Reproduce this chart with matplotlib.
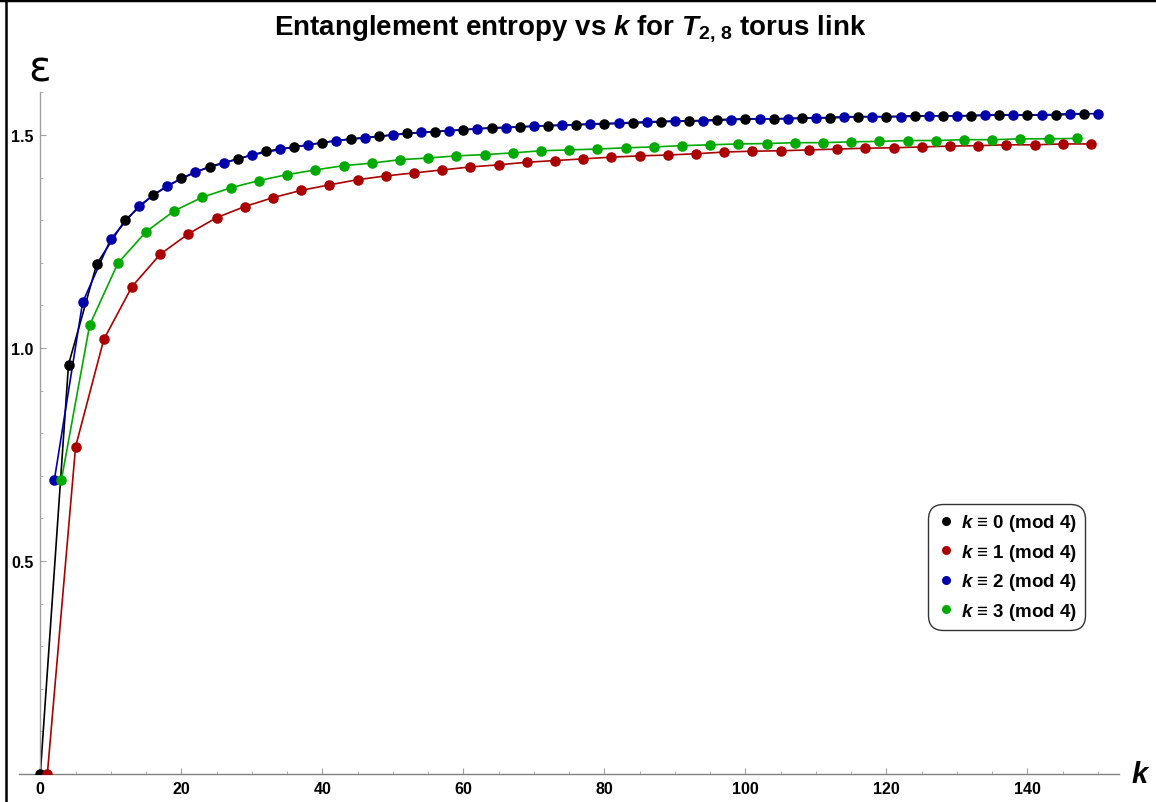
import matplotlib
matplotlib.use("Agg")
import matplotlib.pyplot as plt
from matplotlib.lines import Line2D
from matplotlib.ticker import MultipleLocator
import numpy as np

plt.rcParams['font.family'] = ['Liberation Sans', 'DejaVu Sans']
plt.rcParams['mathtext.fontset'] = 'custom'
plt.rcParams['mathtext.rm'] = 'Liberation Sans'
plt.rcParams['mathtext.it'] = 'Liberation Sans:italic'
plt.rcParams['mathtext.bf'] = 'Liberation Sans:bold'
plt.rcParams['mathtext.bfit'] = 'Liberation Sans:bold:italic'

k0 = list(range(0, 149, 4))
s0 = [0.0, 0.961, 1.197, 1.300, 1.360, 1.398, 1.426, 1.444, 1.462, 1.472,
      1.482, 1.491, 1.497, 1.504, 1.508, 1.512, 1.517, 1.519, 1.522, 1.524,
      1.526, 1.528, 1.531, 1.533, 1.536, 1.538, 1.538, 1.540, 1.540, 1.543,
      1.543, 1.545, 1.545, 1.545, 1.547, 1.547, 1.547, 1.550]

k1 = list(range(1, 150, 4))
s1 = [0.0, 0.768, 1.020, 1.144, 1.220, 1.268, 1.306, 1.332, 1.353, 1.370,
      1.383, 1.395, 1.404, 1.411, 1.418, 1.425, 1.430, 1.436, 1.440, 1.444,
      1.448, 1.451, 1.453, 1.456, 1.460, 1.462, 1.463, 1.465, 1.467, 1.469,
      1.470, 1.472, 1.474, 1.475, 1.477, 1.477, 1.479, 1.479]

k2 = list(range(2, 151, 4))
s2 = [0.691, 1.107, 1.256, 1.334, 1.381, 1.414, 1.434, 1.453, 1.466, 1.477,
      1.487, 1.493, 1.500, 1.506, 1.510, 1.515, 1.517, 1.521, 1.523, 1.526,
      1.528, 1.531, 1.533, 1.533, 1.536, 1.538, 1.538, 1.540, 1.543, 1.543,
      1.543, 1.545, 1.545, 1.547, 1.547, 1.547, 1.550, 1.550]

k3 = list(range(3, 148, 4))
s3 = [0.691, 1.054, 1.199, 1.273, 1.322, 1.354, 1.376, 1.393, 1.407, 1.418,
      1.428, 1.434, 1.442, 1.446, 1.451, 1.454, 1.458, 1.463, 1.465, 1.467,
      1.470, 1.472, 1.475, 1.477, 1.479, 1.480, 1.482, 1.482, 1.484, 1.485,
      1.487, 1.487, 1.489, 1.489, 1.491, 1.491, 1.492]

labels = [r"$\boldsymbol{k}$ ≡ 0 (mod 4)", r"$\boldsymbol{k}$ ≡ 1 (mod 4)",
          r"$\boldsymbol{k}$ ≡ 2 (mod 4)", r"$\boldsymbol{k}$ ≡ 3 (mod 4)"]
colors = ["#000000", "#AA0000", "#0000AA", "#00AA00"]

W, H = 1156, 803
fig = plt.figure(figsize=(W / 100, H / 100), dpi=100)
ax = fig.add_axes([19.15 / W, 28 / H, 1100 / W, 681.6 / H])

handles = []
for kk, ss, c, lab in zip([k0, k1, k2, k3], [s0, s1, s2, s3], colors, labels):
    ax.plot(kk, ss, '-', color=c, lw=1.2, zorder=2)
    ax.plot(kk, ss, 'o', color=c, ms=7.6, mec='none', zorder=3)
    handles.append(Line2D([], [], marker='o', ls='none', color=c, ms=6.5, mec='none', label=lab))

ax.set_xlim(-3, 153)
ax.set_ylim(0, 1.6)

for s in ['top', 'right']:
    ax.spines[s].set_visible(False)
ax.spines['left'].set_position(('data', 0))
ax.spines['left'].set_color('#a0a0a0')
ax.spines['bottom'].set_color('#808080')
ax.spines['left'].set_linewidth(1.0)
ax.spines['bottom'].set_linewidth(1.0)

ax.xaxis.set_major_locator(MultipleLocator(20))
ax.xaxis.set_minor_locator(MultipleLocator(5))
ax.yaxis.set_major_locator(MultipleLocator(0.5))
ax.yaxis.set_minor_locator(MultipleLocator(0.1))
ax.set_yticks([0.5, 1.0, 1.5])
ax.set_yticklabels(['0.5', '1.0', '1.5'])
ax.tick_params(axis='both', which='major', direction='in', length=4, width=0.8,
               color='#a0a0a0', labelsize=11.5, pad=5)
ax.tick_params(axis='both', which='minor', direction='in', length=2.2, width=0.6,
               color='#a0a0a0')
for lab in ax.get_xticklabels() + ax.get_yticklabels():
    lab.set_fontweight('bold')

fig.text(570 / W, 1 - 28 / H,
         r"Entanglement entropy vs $\boldsymbol{k}$ for $\boldsymbol{T}_{\mathbf{2,\,8}}$ torus link",
         ha='center', va='center', fontsize=20, fontweight='bold')

fig.text(40 / W, 1 - 70 / H, "ε", ha='center', va='center', fontsize=30, family=['DejaVu Sans'])
fig.text(1140 / W, 1 - 775 / H, "k", ha='center', va='center', fontsize=21,
         fontweight='bold', fontstyle='italic')

leg = ax.legend(handles=handles, loc='upper left', bbox_to_anchor=(928 / W, 1 - 505 / H),
                bbox_transform=fig.transFigure, frameon=True, fancybox=True,
                prop={'weight': 'bold', 'size': 13.5}, handletextpad=0.3,
                handlelength=1.0, labelspacing=0.45, borderpad=0.45, borderaxespad=0)
leg.get_frame().set_edgecolor('black')
leg.get_frame().set_linewidth(1.0)
leg.get_frame().set_boxstyle('round,pad=0,rounding_size=0.8')

fig.add_artist(Line2D([6 / W, 6 / W], [0, 1], color='black', lw=1.8, transform=fig.transFigure))
fig.add_artist(Line2D([0, 1], [1 - 1 / H, 1 - 1 / H], color='black', lw=2.5, transform=fig.transFigure))

fig.savefig("out.png", dpi=100)
